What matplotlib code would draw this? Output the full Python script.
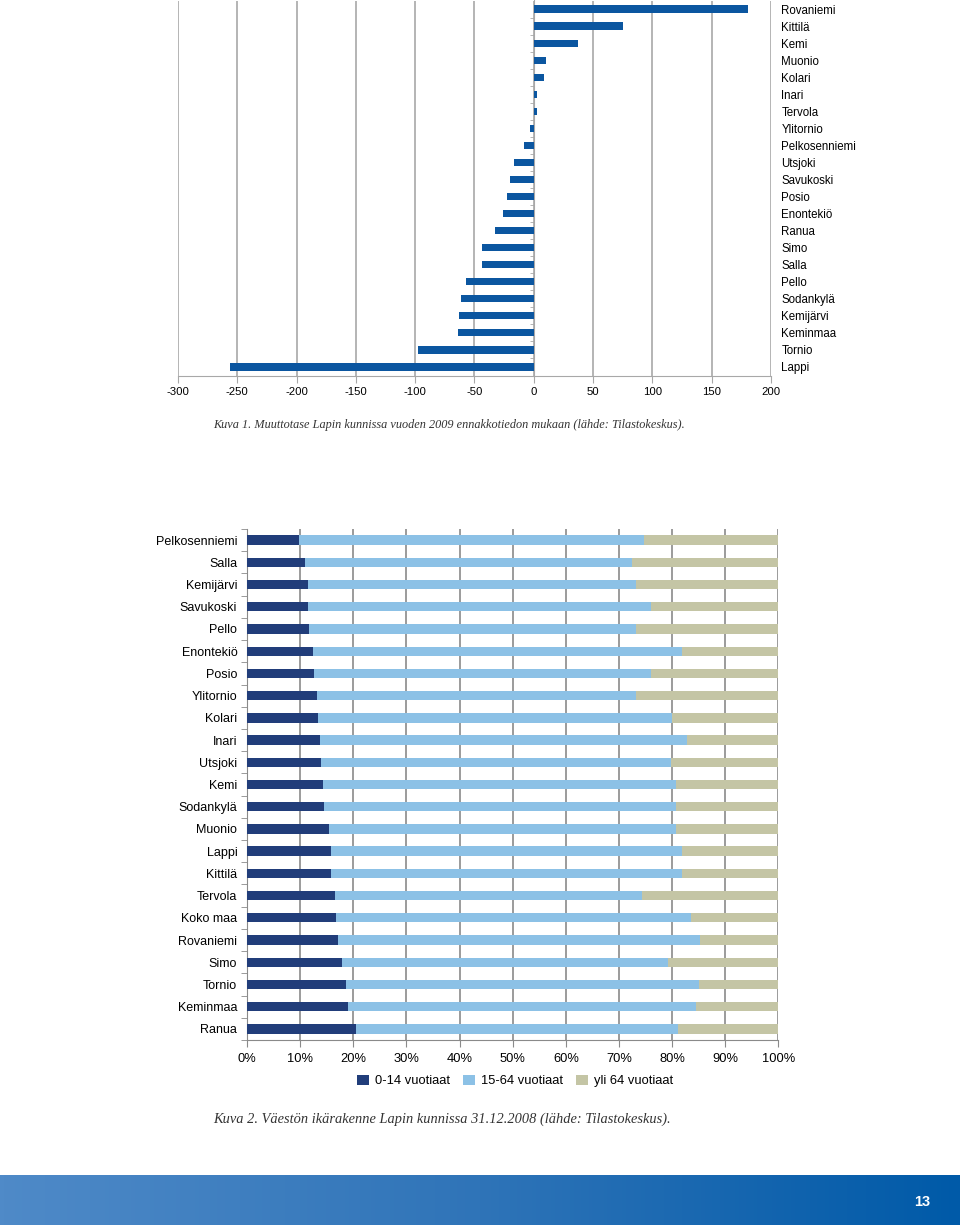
import numpy as np
import matplotlib
matplotlib.use('Agg')
import matplotlib.pyplot as plt
from matplotlib.patches import Patch

plt.rcParams['font.family'] = ['Liberation Sans', 'DejaVu Sans']

# Kuva 1: muuttotase 2009
kunnat1 = ['Rovaniemi', 'Kittilä', 'Kemi', 'Muonio', 'Kolari', 'Inari', 'Tervola',
           'Ylitornio', 'Pelkosenniemi', 'Utsjoki', 'Savukoski', 'Posio', 'Enontekiö',
           'Ranua', 'Simo', 'Salla', 'Pello', 'Sodankylä', 'Kemijärvi', 'Keminmaa',
           'Tornio', 'Lappi']
muuttotase = [181, 75, 37, 10, 9, 3, 3, -3, -8, -17, -20, -23, -26, -33, -44, -44,
              -57, -61, -63, -64, -98, -256]
x_ticks1 = [-300, -250, -200, -150, -100, -50, 0, 50, 100, 150, 200]

# Kuva 2: ikärakenne 31.12.2008 (%)
kunnat2 = ['Pelkosenniemi', 'Salla', 'Kemijärvi', 'Savukoski', 'Pello', 'Enontekiö',
           'Posio', 'Ylitornio', 'Kolari', 'Inari', 'Utsjoki', 'Kemi', 'Sodankylä',
           'Muonio', 'Lappi', 'Kittilä', 'Tervola', 'Koko maa', 'Rovaniemi', 'Simo',
           'Tornio', 'Keminmaa', 'Ranua']
ika_0_14 = [9.8, 11.0, 11.4, 11.4, 11.7, 12.4, 12.6, 13.1, 13.3, 13.8, 14.0, 14.3,
            14.5, 15.5, 15.8, 15.8, 16.5, 16.7, 17.1, 17.9, 18.6, 19.0, 20.6]
ika_0_64 = [74.7, 72.4, 73.1, 76.1, 73.2, 81.8, 76.1, 73.2, 80.0, 82.8, 79.8, 80.8,
            80.7, 80.8, 81.8, 81.8, 74.4, 83.5, 85.3, 79.3, 85.0, 84.5, 81.1]
ika_15_64 = [b - a for a, b in zip(ika_0_14, ika_0_64)]
ika_yli_64 = [100 - b for b in ika_0_64]
sarjat = ['0-14 vuotiaat', '15-64 vuotiaat', 'yli 64 vuotiaat']

fig = plt.figure(figsize=(9.6, 12.25), dpi=100)

# ---- top chart ----
ax1 = fig.add_axes([178/960, 1 - 375.5/1225, 593/960, 375/1225])
y1 = np.arange(len(kunnat1))
ax1.barh(y1, muuttotase, height=0.42, color='#0b56a0', zorder=3)
ax1.set_ylim(len(kunnat1) - 0.5, -0.5)
ax1.set_xlim(-300, 200)
ax1.set_xticks(x_ticks1)
ax1.set_xticklabels([str(v) for v in x_ticks1])
ax1.grid(axis='x', color='#a8a8a8', linewidth=1.2, zorder=0)
ax1.set_yticks(y1 + 0.5, minor=True)
ax1.set_yticks(y1)
ax1.set_yticklabels(kunnat1)
ax1.spines['left'].set_position(('data', 0))
ax1.spines['left'].set_color('#a8a8a8')
ax1.spines['right'].set_visible(False)
ax1.spines['top'].set_visible(False)
ax1.spines['bottom'].set_color('#a8a8a8')
ax1.tick_params(axis='y', which='major', left=False, right=False,
                labelleft=False, labelright=True, pad=4, labelsize=8.3)
ax1.tick_params(axis='y', which='minor', left=True, length=3, color='#a8a8a8')
ax1.tick_params(axis='x', length=5, color='#a8a8a8', pad=3.6, labelsize=8.2)

fig.text(213/960, 1 - 425/1225,
         'Kuva 1. Muuttotase Lapin kunnissa vuoden 2009 ennakkotiedon mukaan (lähde: Tilastokeskus).',
         fontsize=8.8, family='Liberation Serif', style='italic', color='#333333',
         ha='left', va='center')

# ---- bottom chart ----
ax2 = fig.add_axes([247/960, 1 - 1040/1225, 531.5/960, 511/1225])
y2 = np.arange(len(kunnat2))
colors = ['#213d7a', '#8cc1e6', '#c4c5a5']
ax2.barh(y2, ika_0_14, height=0.42, color=colors[0], label=sarjat[0], zorder=3)
ax2.barh(y2, ika_15_64, left=ika_0_14, height=0.42, color=colors[1], label=sarjat[1], zorder=3)
ax2.barh(y2, ika_yli_64, left=ika_0_64, height=0.42, color=colors[2], label=sarjat[2], zorder=3)
ax2.set_ylim(len(kunnat2) - 0.5, -0.5)
ax2.set_xlim(0, 100)
ax2.set_xticks(np.arange(0, 101, 10))
ax2.set_xticklabels(['%d%%' % v for v in range(0, 101, 10)])
ax2.grid(axis='x', color='#8a8a8a', linewidth=1.2, zorder=0)
ax2.set_yticks(y2)
ax2.set_yticklabels(kunnat2)
ax2.set_yticks(np.arange(-0.5, len(kunnat2), 1), minor=True)
ax2.tick_params(axis='y', which='major', length=0, pad=7, labelsize=9)
ax2.tick_params(axis='y', which='minor', length=4, color='#8a8a8a')
ax2.tick_params(axis='x', length=5, color='#8a8a8a', pad=4.4, labelsize=9.3)
ax2.spines['top'].set_visible(False)
ax2.spines['right'].set_visible(False)
ax2.spines['left'].set_color('#8a8a8a')
ax2.spines['bottom'].set_color('#8a8a8a')

handles = [Patch(facecolor=c) for c in colors]
fig.legend(handles, sarjat, loc='center', bbox_to_anchor=(515/960, 1 - 1081/1225),
           ncol=3, frameon=False, fontsize=9.3, handlelength=0.9, handleheight=0.9,
           handletextpad=0.5, columnspacing=1.0)

fig.text(213/960, 1 - 1119/1225,
         'Kuva 2. Väestön ikärakenne Lapin kunnissa 31.12.2008 (lähde: Tilastokeskus).',
         fontsize=10.4, family='Liberation Serif', style='italic', color='#333333',
         ha='left', va='center')

# ---- footer band ----
axf = fig.add_axes([0, 0, 1, 50/1225])
grad = np.linspace(0, 1, 256).reshape(1, -1)
cmap = matplotlib.colors.LinearSegmentedColormap.from_list('band', ['#4f8ac8', '#2f74b8', '#005aa8'])
axf.imshow(grad, aspect='auto', cmap=cmap, extent=[0, 1, 0, 1])
axf.set_axis_off()
axf.text(922/960, 0.46, '13', color='white', fontsize=10.5, fontweight='bold',
         ha='center', va='center', transform=axf.transAxes)

fig.savefig('out.png', dpi=100)
